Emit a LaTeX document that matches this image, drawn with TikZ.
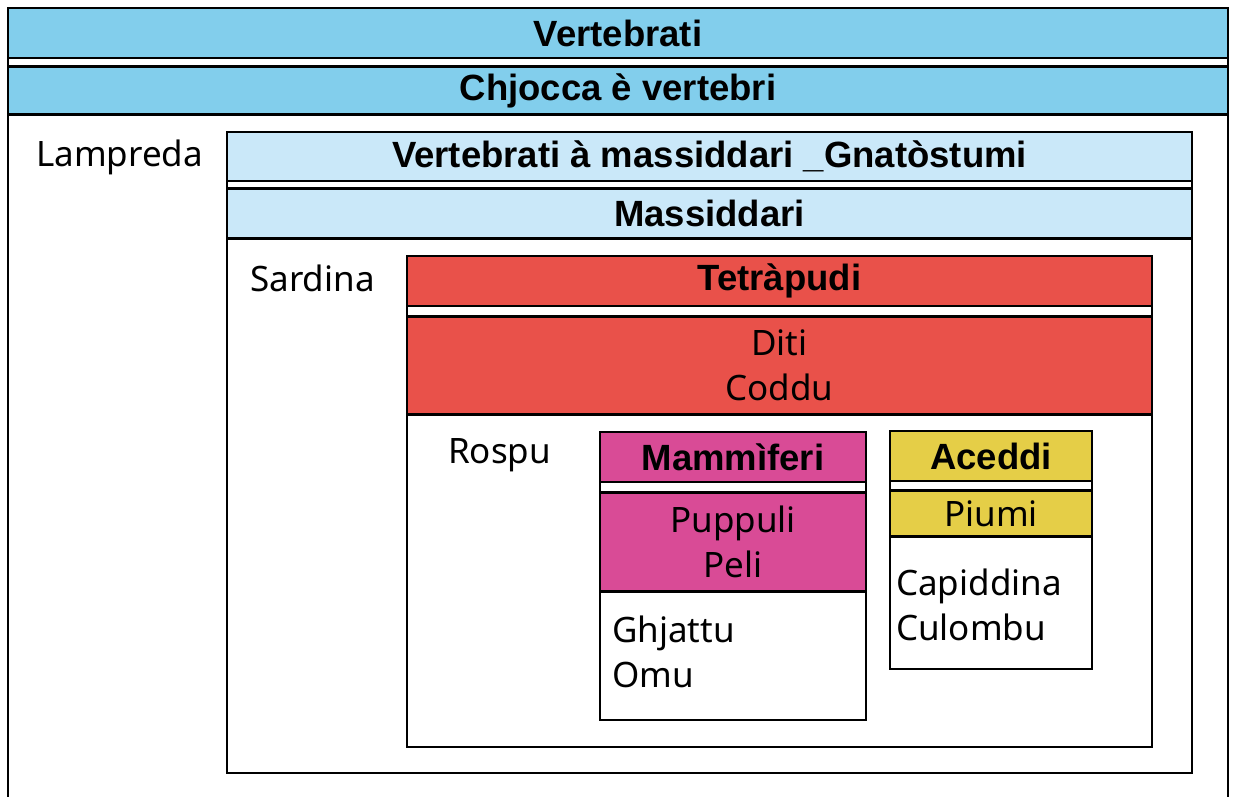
\documentclass[tikz,border=0pt]{standalone}
\usepackage{fontspec}
\usetikzlibrary{positioning}
\newfontfamily\libsans{Liberation Sans}
\newfontfamily\notosans{Noto Sans}
\newcommand\headfont{\libsans\bfseries\fontsize{36.5}{42}\selectfont}
\newcommand\taxfont{\notosans\fontsize{35}{45}\selectfont}
\definecolor{skyhead}{RGB}{130,206,236}
\definecolor{palehead}{RGB}{202,232,249}
\definecolor{tetrared}{RGB}{233,81,74}
\definecolor{mammpink}{RGB}{217,75,150}
\definecolor{birdyellow}{RGB}{229,206,71}
\tikzstyle{bar} = [draw, line width=2.5pt, inner sep=0pt, font=\headfont]
\tikzstyle{box} = [draw, line width=2.5pt]

\begin{document}
\begin{tikzpicture}[x=1pt, y=-1pt,
	taxon/.style={anchor=west, align=left, inner sep=0pt, font=\taxfont},
	trait/.style={bar, font=\taxfont, align=center}]
	\useasboundingbox (0,0) rectangle (1235,796);
	\fill[white] (0,0) rectangle (1235,796);
	%% Containers
	\draw[box] (8,8) rectangle (1228,810);
	\draw[box] (227,132) rectangle (1192,773);
	\draw[box] (407,256) rectangle (1152,747);
	\draw[box] (600,432) rectangle (866,720);
	\draw[box] (890,431) rectangle (1092,669);
	%% Vertebrati
	\node [bar, fill=skyhead, minimum width=1220, minimum height=50] (V) at (618,33) {Vertebrati};
	\node [bar, fill=skyhead, minimum width=1220, minimum height=48, below=6pt of V] (C) {Chjocca è vertebri};
	\node [taxon] (lamp) at (36,157) {Lampreda};
	%% Gnatostumi
	\node [bar, fill=palehead, minimum width=965, minimum height=49] (G) at (709.5,156.5) {Vertebrati à massiddari \_Gnatòstumi};
	\node [bar, fill=palehead, minimum width=965, minimum height=50, below=5pt of G] (M) {Massiddari};
	\node [taxon] (sard) at (250,278) {Sardina};
	%% Tetrapudi
	\node [bar, fill=tetrared, minimum width=745, minimum height=50] (T) at (779.5,281) {Tetràpudi};
	\node [trait, fill=tetrared, minimum width=745, minimum height=98, below=8pt of T] (D) {Diti\\Coddu};
	\node [taxon] (rosp) at (448,455) {Rospu};
	%% Mammiferi
	\node [bar, fill=mammpink, minimum width=266, minimum height=50] (Ma) at (733,457) {Mammìferi};
	\node [trait, fill=mammpink, minimum width=266, minimum height=99, below=8pt of Ma] (P) {Puppuli\\Peli};
	\node [taxon] (ghj) at (612,652) {Ghjattu\\Omu};
	%% Aceddi
	\node [bar, fill=birdyellow, minimum width=202, minimum height=50] (A) at (991,456) {Aceddi};
	\node [trait, fill=birdyellow, minimum width=202, minimum height=46, below=7pt of A] (Pi) {Piumi};
	\node [taxon] (cap) at (896,605) {Capiddina\\Culombu};
\end{tikzpicture}
\end{document}
